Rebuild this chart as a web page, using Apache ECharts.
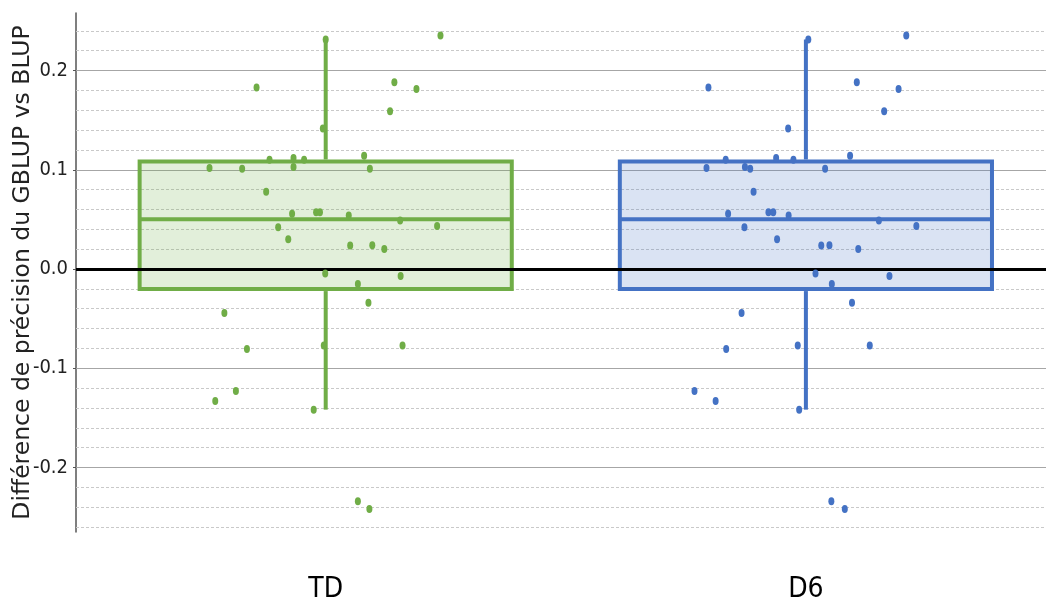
<!DOCTYPE html>
<html>
<head>
<meta charset="utf-8">
<script src="https://cdn.jsdelivr.net/npm/echarts@6/dist/echarts.min.js"></script>
<style>
  html, body { margin: 0; padding: 0; background: #fff; }
  #chart { width: 1046px; height: 606px; }
</style>
</head>
<body>
<div id="chart"></div>
<script>
// groups
var categories = ['TD', 'D6'];
var colors = ['#70ad47', '#4472c4'];

// box stats per group: [min, Q1, median, Q3, max]
var boxTD = [-0.1417, -0.0202, 0.0502, 0.1084, 0.2313];
var boxD6 = [-0.1417, -0.0202, 0.0502, 0.1084, 0.2313];

// individual values (same for both groups)
var values = [0.2313, 0.2354, 0.1828, 0.1882, 0.1815, 0.1589, 0.1417, 0.1141, 0.1118, 0.1100,
              0.1100, 0.1027, 0.1017, 0.1010, 0.1010, 0.0778, 0.0572, 0.0572, 0.0556, 0.0539,
              0.0488, 0.0434, 0.0421, 0.0300, 0.0239, 0.0236, 0.0202, -0.0044, -0.0071, -0.0152,
              -0.0340, -0.0444, -0.0771, -0.0771, -0.0805, -0.1229, -0.1330, -0.1418, -0.2340, -0.2418];
// horizontal jitter of each point, in category units
var jitterTD = [0.000, 0.239, -0.144, 0.143, 0.189, 0.134, -0.006, 0.080, -0.067, -0.117,
                -0.045, -0.067, -0.242, -0.174, 0.092, -0.124, -0.020, -0.012, -0.070, 0.048,
                0.155, 0.232, -0.099, -0.078, 0.097, 0.051, 0.122, -0.001, 0.156, 0.067,
                0.089, -0.211, -0.004, 0.160, -0.164, -0.187, -0.230, -0.025, 0.067, 0.091];
var jitterD6 = [0.005, 0.209, -0.203, 0.106, 0.193, 0.163, -0.037, 0.092, -0.062, -0.167,
                -0.026, -0.127, -0.207, -0.116, 0.040, -0.109, -0.078, -0.068, -0.162, -0.036,
                0.152, 0.230, -0.128, -0.060, 0.049, 0.032, 0.109, 0.020, 0.174, 0.054,
                0.096, -0.134, -0.017, 0.133, -0.166, -0.232, -0.188, -0.014, 0.053, 0.081];

// y axis ticks and grid lines
var yLabels = [-0.2, -0.1, 0.0, 0.1, 0.2];
var minorLines = [-0.26, -0.24, -0.22, -0.18, -0.16, -0.14, -0.12, -0.08, -0.06, -0.04, -0.02,
                  0.02, 0.04, 0.06, 0.08, 0.12, 0.14, 0.16, 0.18, 0.22, 0.24];
var majorLines = [-0.2, -0.1, 0.1, 0.2];

var chart = echarts.init(document.getElementById('chart'));

var boxData = [[0].concat(boxTD), [1].concat(boxD6)];

function pts(jit, gi) {
  return values.map(function (v, i) { return [gi + jit[i], v]; });
}

var gridLineData = [];
minorLines.forEach(function (v) {
  gridLineData.push({ yAxis: v, lineStyle: { color: '#c9c9c9', width: 1, type: [3, 2] } });
});
majorLines.forEach(function (v) {
  gridLineData.push({ yAxis: v, lineStyle: { color: '#a6a6a6', width: 1, type: 'solid' } });
});

var option = {
  animation: false,
  grid: { left: 76, right: 0, top: 13, bottom: 74, outerBoundsMode: 'none', containLabel: false },
  xAxis: {
    type: 'value',
    min: -0.52,
    max: 1.5,
    splitLine: { show: false },
    axisLine: { show: false },
    axisTick: { show: false },
    axisLabel: {
      customValues: [0, 1],
      formatter: function (v) { return categories[Math.round(v)]; },
      fontFamily: 'Liberation Sans Narrow, DejaVu Sans Condensed, sans-serif',
      fontSize: 28,
      color: '#000',
      margin: 44
    }
  },
  yAxis: {
    type: 'value',
    min: -0.265,
    max: 0.258,
    name: 'Différence de précision du GBLUP vs BLUP',
    nameLocation: 'middle',
    nameRotate: 90,
    nameGap: 41,
    nameMoveOverlap: false,
    nameTextStyle: { fontFamily: 'DejaVu Sans, sans-serif', fontSize: 23.5, color: '#222' },
    splitLine: { show: false },
    axisLine: { show: true, onZero: false, lineStyle: { color: '#555', width: 1.5 } },
    axisTick: { show: true, customValues: yLabels, length: 3, lineStyle: { color: '#555' } },
    axisLabel: {
      customValues: yLabels,
      formatter: function (v) { return v.toFixed(1); },
      fontFamily: 'Liberation Sans Narrow, DejaVu Sans Condensed, sans-serif',
      fontSize: 20,
      color: '#222',
      margin: 8
    }
  },
  series: [
    {
      type: 'scatter',
      data: [],
      z: 1,
      silent: true,
      markLine: {
        z: 1,
        silent: true,
        symbol: ['none', 'none'],
        label: { show: false },
        data: gridLineData
      }
    },
    {
      type: 'custom',
      z: 2,
      data: boxData,
      renderItem: function (params, api) {
        var x = api.value(0);
        var gi = params.dataIndex;
        var w = api.size([0.775, 0])[0];
        var pMin = api.coord([x, api.value(1)]);
        var pQ1 = api.coord([x, api.value(2)]);
        var pMed = api.coord([x, api.value(3)]);
        var pQ3 = api.coord([x, api.value(4)]);
        var pMax = api.coord([x, api.value(5)]);
        var col = colors[gi];
        var ls = { stroke: col, lineWidth: 4 };
        return {
          type: 'group',
          children: [
            { type: 'rect', shape: { x: pQ3[0] - w / 2, y: pQ3[1], width: w, height: pQ1[1] - pQ3[1] },
              style: { fill: echarts.color.modifyAlpha(col, 0.2), stroke: col, lineWidth: 4 } },
            { type: 'line', shape: { x1: pQ3[0] - w / 2, y1: pMed[1], x2: pQ3[0] + w / 2, y2: pMed[1] }, style: ls },
            { type: 'line', shape: { x1: pMax[0], y1: pMax[1], x2: pQ3[0], y2: pQ3[1] - 2 }, style: ls },
            { type: 'line', shape: { x1: pMin[0], y1: pMin[1], x2: pQ1[0], y2: pQ1[1] + 2 }, style: ls }
          ]
        };
      }
    },
    {
      type: 'scatter',
      data: [],
      z: 3,
      silent: true,
      markLine: {
        z: 3,
        silent: true,
        symbol: ['none', 'none'],
        label: { show: false },
        data: [{ yAxis: 0, lineStyle: { color: '#000', width: 3, type: 'solid' } }]
      }
    },
    {
      type: 'scatter',
      name: 'TD',
      z: 4,
      data: pts(jitterTD, 0),
      symbol: 'circle',
      symbolSize: [6, 8],
      itemStyle: { color: colors[0], opacity: 1 }
    },
    {
      type: 'scatter',
      name: 'D6',
      z: 4,
      data: pts(jitterD6, 1),
      symbol: 'circle',
      symbolSize: [6, 8],
      itemStyle: { color: colors[1], opacity: 1 }
    }
  ]
};

chart.setOption(option);
window.addEventListener('resize', function () { chart.resize(); });
</script>
</body>
</html>
